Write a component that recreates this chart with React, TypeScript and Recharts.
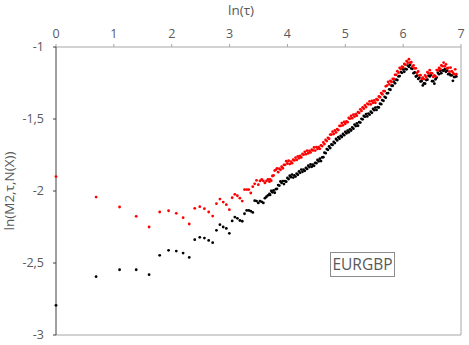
import React from 'react';
import { ScatterChart, Scatter, XAxis, YAxis, ReferenceLine } from 'recharts';

// ln(tau) positions: tau = 1..40 one by one, then the dense part read along the band
const lnTau = [
  0, 0.693, 1.099, 1.386, 1.609, 1.792, 1.946, 2.079, 2.197, 2.303,
  2.398, 2.485, 2.565, 2.639, 2.708, 2.773, 2.833, 2.89, 2.944, 2.996,
  3.045, 3.091, 3.135, 3.178, 3.219, 3.258, 3.296, 3.332, 3.367, 3.401,
  3.434, 3.466, 3.497, 3.526, 3.555, 3.584, 3.611, 3.638, 3.664, 3.689,
  3.7, 3.72, 3.74, 3.76, 3.78, 3.8, 3.82, 3.84, 3.86, 3.88,
  3.9, 3.92, 3.94, 3.96, 3.98, 4.0, 4.02, 4.04, 4.06, 4.08,
  4.1, 4.12, 4.14, 4.16, 4.18, 4.2, 4.22, 4.24, 4.26, 4.28,
  4.3, 4.32, 4.34, 4.36, 4.38, 4.4, 4.42, 4.44, 4.46, 4.48,
  4.5, 4.52, 4.54, 4.56, 4.58, 4.6, 4.62, 4.64, 4.66, 4.68,
  4.7, 4.72, 4.74, 4.76, 4.78, 4.8, 4.82, 4.84, 4.86, 4.88,
  4.9, 4.92, 4.94, 4.96, 4.98, 5.0, 5.02, 5.04, 5.06, 5.08,
  5.1, 5.12, 5.14, 5.16, 5.18, 5.2, 5.22, 5.24, 5.26, 5.28,
  5.3, 5.32, 5.34, 5.36, 5.38, 5.4, 5.42, 5.44, 5.46, 5.48,
  5.5, 5.52, 5.54, 5.56, 5.58, 5.6, 5.62, 5.64, 5.66, 5.68,
  5.7, 5.72, 5.74, 5.76, 5.78, 5.8, 5.82, 5.84, 5.86, 5.88,
  5.9, 5.92, 5.94, 5.96, 5.98, 6.0, 6.02, 6.04, 6.06, 6.08,
  6.1, 6.12, 6.14, 6.16, 6.18, 6.2, 6.22, 6.24, 6.26, 6.28,
  6.3, 6.32, 6.34, 6.36, 6.38, 6.4, 6.42, 6.44, 6.46, 6.48,
  6.5, 6.52, 6.54, 6.56, 6.58, 6.6, 6.62, 6.64, 6.66, 6.68,
  6.7, 6.72, 6.74, 6.76, 6.78, 6.8, 6.82, 6.84, 6.86, 6.88,
  6.9, 6.92,
];

const redValues = [
  -1.9, -2.042, -2.111, -2.176, -2.25, -2.146, -2.137, -2.155, -2.185, -2.229,
  -2.12, -2.109, -2.123, -2.146, -2.174, -2.088, -2.056, -2.077, -2.095, -2.13,
  -2.047, -2.023, -2.033, -2.05, -2.07, -1.99, -1.99, -1.99, -2.014, -1.97,
  -1.95, -1.926, -1.956, -1.93, -1.92, -1.93, -1.944, -1.93, -1.92, -1.935,
  -1.92, -1.928, -1.896, -1.892, -1.858, -1.853, -1.843, -1.869, -1.845, -1.853,
  -1.831, -1.842, -1.818, -1.818, -1.793, -1.809, -1.79, -1.813, -1.796, -1.807,
  -1.783, -1.788, -1.768, -1.784, -1.76, -1.773, -1.756, -1.767, -1.743, -1.748,
  -1.728, -1.744, -1.72, -1.738, -1.721, -1.732, -1.713, -1.718, -1.698, -1.719,
  -1.695, -1.708, -1.696, -1.707, -1.683, -1.688, -1.663, -1.674, -1.645, -1.653,
  -1.631, -1.637, -1.608, -1.608, -1.588, -1.604, -1.58, -1.593, -1.571, -1.577,
  -1.548, -1.548, -1.528, -1.544, -1.52, -1.533, -1.516, -1.522, -1.493, -1.498,
  -1.478, -1.494, -1.47, -1.483, -1.466, -1.477, -1.453, -1.458, -1.433, -1.444,
  -1.42, -1.428, -1.406, -1.417, -1.393, -1.398, -1.378, -1.399, -1.375, -1.388,
  -1.371, -1.387, -1.363, -1.368, -1.343, -1.349, -1.32, -1.328, -1.306, -1.307,
  -1.273, -1.268, -1.243, -1.259, -1.235, -1.243, -1.221, -1.222, -1.193, -1.193,
  -1.168, -1.179, -1.145, -1.153, -1.136, -1.142, -1.118, -1.123, -1.098, -1.109,
  -1.085, -1.108, -1.106, -1.137, -1.128, -1.148, -1.148, -1.179, -1.17, -1.198,
  -1.196, -1.222, -1.213, -1.223, -1.198, -1.209, -1.175, -1.183, -1.161, -1.182,
  -1.183, -1.208, -1.198, -1.204, -1.16, -1.163, -1.146, -1.152, -1.128, -1.133,
  -1.108, -1.134, -1.12, -1.148, -1.146, -1.172, -1.143, -1.168, -1.178, -1.189,
  -1.155, -1.188,
];

const blackValues = [
  -2.794, -2.595, -2.547, -2.547, -2.581, -2.447, -2.412, -2.417, -2.431, -2.461,
  -2.338, -2.322, -2.327, -2.343, -2.359, -2.273, -2.234, -2.25, -2.26, -2.294,
  -2.208, -2.181, -2.19, -2.205, -2.21, -2.158, -2.135, -2.135, -2.14, -2.149,
  -2.067, -2.07, -2.083, -2.07, -2.075, -2.083, -2.05, -2.04, -2.03, -2.02,
  -2.027, -1.999, -2.009, -1.996, -2.012, -1.987, -1.985, -1.959, -1.962, -1.934,
  -1.944, -1.931, -1.952, -1.932, -1.935, -1.909, -1.917, -1.894, -1.904, -1.886,
  -1.907, -1.892, -1.9, -1.879, -1.887, -1.864, -1.874, -1.851, -1.867, -1.852,
  -1.86, -1.839, -1.847, -1.824, -1.834, -1.816, -1.832, -1.817, -1.825, -1.804,
  -1.807, -1.784, -1.794, -1.776, -1.792, -1.767, -1.765, -1.734, -1.737, -1.709,
  -1.714, -1.691, -1.702, -1.677, -1.68, -1.659, -1.667, -1.639, -1.649, -1.626,
  -1.637, -1.617, -1.625, -1.604, -1.612, -1.589, -1.599, -1.581, -1.592, -1.572,
  -1.58, -1.559, -1.567, -1.539, -1.549, -1.531, -1.547, -1.522, -1.525, -1.499,
  -1.502, -1.479, -1.484, -1.466, -1.482, -1.462, -1.47, -1.449, -1.457, -1.429,
  -1.439, -1.421, -1.437, -1.417, -1.42, -1.394, -1.397, -1.369, -1.374, -1.346,
  -1.352, -1.322, -1.32, -1.294, -1.297, -1.269, -1.269, -1.241, -1.252, -1.227,
  -1.23, -1.204, -1.202, -1.174, -1.179, -1.156, -1.172, -1.152, -1.155, -1.129,
  -1.137, -1.124, -1.149, -1.151, -1.182, -1.177, -1.205, -1.199, -1.222, -1.214,
  -1.239, -1.236, -1.267, -1.252, -1.255, -1.229, -1.227, -1.199, -1.204, -1.196,
  -1.237, -1.237, -1.255, -1.224, -1.212, -1.179, -1.189, -1.166, -1.182, -1.162,
  -1.165, -1.154, -1.172, -1.164, -1.189, -1.186, -1.197, -1.197, -1.235, -1.209,
  -1.207, -1.204,
];

const xTicks = [0, 1, 2, 3, 4, 5, 6, 7];
const yTicks = [-3, -2.5, -2, -1.5, -1];

const redData = lnTau.map((x, i) => ({ x, y: redValues[i] }));
const blackData = lnTau.map((x, i) => ({ x, y: blackValues[i] }));

const textGray = '#595959';
const font = '"Open Sans", sans-serif';

const Dot = (props: any) => {
  const { cx, cy, fill } = props;
  if (cx == null || cy == null) return null;
  return <circle cx={cx} cy={cy} r={1.4} fill={fill} />;
};

export default function App() {
  return (
    <div style={{ position: 'fixed', left: 0, top: 0, width: 469, height: 345, background: '#fff', fontFamily: font }}>
      <ScatterChart width={469} height={345} margin={{ top: 17, right: 8, bottom: 10, left: 0 }}>
        <XAxis
          type="number"
          dataKey="x"
          orientation="top"
          domain={[0, 7]}
          ticks={xTicks}
          height={30}
          tickSize={3}
          tickMargin={6}
          axisLine={{ stroke: '#a6a6a6' }}
          tickLine={{ stroke: '#a6a6a6' }}
          tick={{ fill: textGray, fontSize: 12.5, fontFamily: font }}
        />
        <YAxis
          type="number"
          dataKey="y"
          domain={[-3, -1]}
          ticks={yTicks}
          width={56}
          tickSize={3}
          tickMargin={9}
          tickFormatter={(v: number) => String(v).replace('.', ',')}
          axisLine={{ stroke: '#404040' }}
          tickLine={{ stroke: '#404040' }}
          tick={{ fill: textGray, fontSize: 12.5, fontFamily: font }}
        />
        <ReferenceLine x={7} stroke="#a6a6a6" />
        <ReferenceLine y={-3} stroke="#a6a6a6" />
        <Scatter data={blackData} fill="#000000" shape={Dot} isAnimationActive={false} />
        <Scatter data={redData} fill="#ff0000" shape={Dot} isAnimationActive={false} />
      </ScatterChart>
      <div style={{ position: 'absolute', left: 228, top: 1, fontSize: 13.5, color: textGray, whiteSpace: 'nowrap' }}>
        ln(τ)
      </div>
      <div
        style={{
          position: 'absolute',
          left: 9,
          top: 191,
          transform: 'translate(-50%, -50%) rotate(-90deg)',
          fontSize: 13.5,
          color: textGray,
          whiteSpace: 'nowrap',
        }}
      >
        ln(M2,τ,N(X))
      </div>
      <div
        style={{
          position: 'absolute',
          left: 330,
          top: 252,
          width: 63,
          height: 23,
          border: '1px solid #8c8c8c',
          fontSize: 15.5,
          lineHeight: '23px',
          textAlign: 'center',
          color: textGray,
        }}
      >
        EURGBP
      </div>
    </div>
  );
}
